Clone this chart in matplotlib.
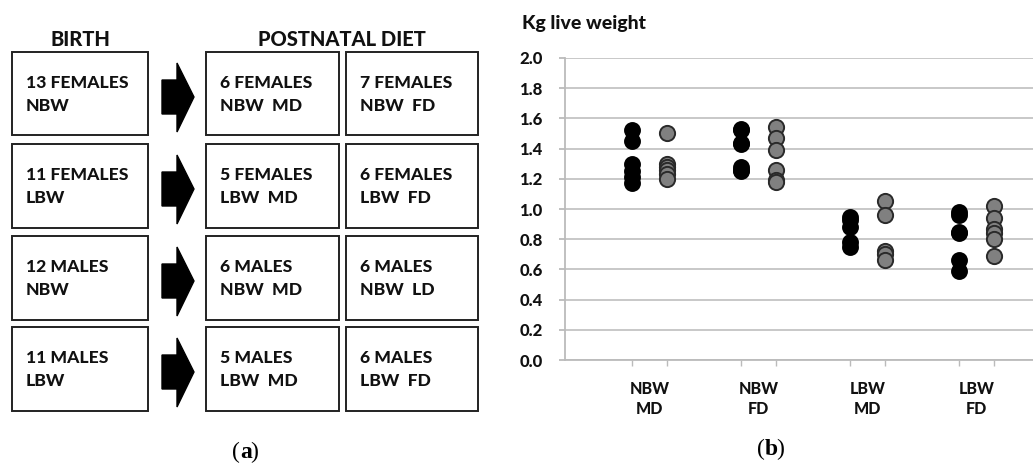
import matplotlib
matplotlib.use("Agg")
import matplotlib.pyplot as plt
from matplotlib.patches import Rectangle, Polygon

# data
birth_groups = ["13 FEMALES\nNBW", "11 FEMALES\nLBW", "12 MALES\nNBW", "11 MALES\nLBW"]
diet_groups_1 = ["6 FEMALES\nNBW  MD", "5 FEMALES\nLBW  MD", "6 MALES\nNBW  MD", "5 MALES\nLBW  MD"]
diet_groups_2 = ["7 FEMALES\nNBW  FD", "6 FEMALES\nLBW  FD", "6 MALES\nNBW  LD", "6 MALES\nLBW  FD"]

categories = ["NBW\nMD", "NBW\nFD", "LBW\nMD", "LBW\nFD"]
females = [
    [1.52, 1.45, 1.30, 1.25, 1.21, 1.17],
    [1.53, 1.52, 1.44, 1.43, 1.28, 1.26, 1.25],
    [0.95, 0.93, 0.88, 0.78, 0.75],
    [0.98, 0.96, 0.85, 0.84, 0.66, 0.59],
]
males = [
    [1.50, 1.30, 1.28, 1.26, 1.23, 1.20],
    [1.54, 1.47, 1.39, 1.26, 1.19, 1.18],
    [1.05, 0.96, 0.72, 0.70, 0.66],
    [1.02, 0.94, 0.87, 0.84, 0.80, 0.69],
]
yticks = [0.0, 0.2, 0.4, 0.6, 0.8, 1.0, 1.2, 1.4, 1.6, 1.8, 2.0]

plt.rcParams["font.family"] = ["Lato", "DejaVu Sans"]
BOLD = 900

W, H = 1033, 465
fig = plt.figure(figsize=(W / 100, H / 100), dpi=100)

# ---- panel (a): diagram drawn in pixel coordinates
ax0 = fig.add_axes([0, 0, 1, 1])
ax0.set_xlim(0, W)
ax0.set_ylim(H, 0)
ax0.axis("off")

ax0.text(80, 40, "BIRTH", ha="center", va="center", fontsize=14.5, fontweight=BOLD, color="#111")
ax0.text(342, 40, "POSTNATAL DIET", ha="center", va="center", fontsize=14.5, fontweight=BOLD, color="#111")

tops = [52, 144, 236, 327]
bh = 83.5
for i, top in enumerate(tops):
    for x0, x1, label in [(12, 148, birth_groups[i]), (206, 339, diet_groups_1[i]), (346, 478, diet_groups_2[i])]:
        ax0.add_patch(Rectangle((x0, top), x1 - x0, bh, fill=False, ec="#222", lw=1.4))
        l1, l2 = label.split("\n")
        ax0.text(x0 + 14, top + 31, l1, ha="left", va="center", fontsize=12.6, fontweight=BOLD, color="#111")
        ax0.text(x0 + 14, top + 54, l2, ha="left", va="center", fontsize=12.6, fontweight=BOLD, color="#111")
    c = top + 45
    ax0.add_patch(Polygon([(162, c - 17), (177, c - 17), (177, c - 34), (194, c), (177, c + 35),
                           (177, c + 17), (162, c + 17)], closed=True, fc="black", ec="black"))

serif = "Liberation Serif"
ax0.text(240, 452, "(", ha="right", va="center", fontsize=17, family=serif)
ax0.text(240, 452, "a", ha="left", va="center", fontsize=17, family=serif, fontweight="bold")
ax0.text(240 + 10.5, 452, ")", ha="left", va="center", fontsize=17, family=serif)
ax0.text(765, 449, "(", ha="right", va="center", fontsize=17, family=serif)
ax0.text(765, 449, "b", ha="left", va="center", fontsize=17, family=serif, fontweight="bold")
ax0.text(765 + 11.5, 449, ")", ha="left", va="center", fontsize=17, family=serif)

# ---- panel (b): scatter
ax = fig.add_axes([565 / W, (H - 360) / H, (W - 565) / W, (360 - 58) / H])
off = 0.16
for i in range(len(categories)):
    x = i + 1
    ax.scatter([x - off] * len(females[i]), females[i], s=120, c="black", edgecolors="black",
               linewidths=1.2, zorder=3)
    ax.scatter([x + off] * len(males[i]), males[i], s=120, c="#808080", edgecolors="#2a2a2a",
               linewidths=1.4, zorder=3)

ax.set_xlim(0.225, 4.52)
ax.set_ylim(0, 2.0)
ax.set_yticks(yticks)
ax.set_yticklabels([f"{v:.1f}" for v in yticks], fontsize=12, fontweight=BOLD, color="#111")
ax.yaxis.grid(True, color="#c4c4c4", lw=1.3)
ax.set_axisbelow(True)
ax.set_xticks(range(1, len(categories) + 1))
ax.set_xticklabels(categories, fontsize=11.5, fontweight=BOLD, color="#111", linespacing=1.35)
ax.tick_params(axis="x", length=0, pad=15)
ax.set_xticks([i + 1 + d for i in range(len(categories)) for d in (-off, off)], minor=True)
ax.tick_params(axis="x", which="minor", length=4, color="#bbbbbb", width=1)
ax.tick_params(axis="y", length=4.5, color="#bbbbbb", width=1.3, pad=11.5)
for sp in ["top", "right"]:
    ax.spines[sp].set_visible(False)
for sp in ["left", "bottom"]:
    ax.spines[sp].set_color("#bbbbbb")
    ax.spines[sp].set_linewidth(1.3)

fig.text(522 / W, 1 - 23 / H, "Kg live weight", ha="left", va="center", fontsize=14,
         fontweight=BOLD, color="#111")

fig.savefig("out.png", dpi=100)
